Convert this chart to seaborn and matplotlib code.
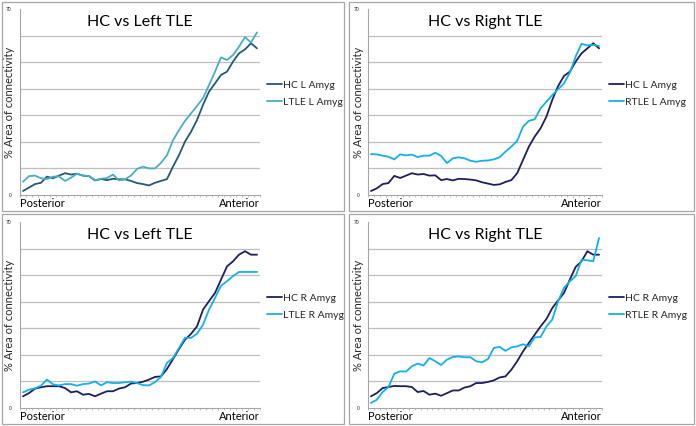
import matplotlib
matplotlib.use("Agg")
import matplotlib.pyplot as plt
import seaborn as sns
import pandas as pd
import numpy as np
from matplotlib.patches import Rectangle

# values, 40 slices posterior -> anterior
hc_l_amyg_a = [1.5, 2.8, 4.1, 4.6, 6.9, 6.3, 7.3, 8.2, 7.7, 8.0, 7.3, 7.1, 5.5, 6.0, 5.6, 6.1, 5.9, 5.9, 5.3, 4.5,
               4.1, 3.6, 4.6, 5.3, 6.0, 10.7, 15.0, 20.1, 23.8, 28.2, 33.9, 38.9, 42.0, 45.2, 46.4, 50.2, 53.3, 54.8, 57.1, 55.2]
ltle_l_amyg = [5.0, 7.1, 7.3, 6.3, 6.0, 6.9, 7.0, 5.3, 6.5, 8.0, 7.3, 7.1, 5.6, 6.1, 6.4, 7.7, 5.5, 5.9, 7.3, 9.8,
               10.7, 10.0, 10.0, 12.1, 15.0, 20.6, 24.4, 27.9, 30.7, 33.5, 36.4, 41.4, 46.4, 51.8, 50.8, 52.7, 55.8, 59.4, 57.4, 61.2]
hc_l_amyg_b = [1.5, 2.5, 4.1, 4.5, 7.2, 6.4, 7.3, 8.2, 7.7, 7.9, 7.3, 7.4, 5.6, 6.0, 5.5, 6.1, 6.0, 5.8, 5.5, 4.8,
               4.3, 3.8, 4.0, 4.9, 5.6, 8.2, 13.2, 18.2, 22.0, 25.1, 29.5, 35.8, 41.0, 44.8, 46.4, 50.2, 53.3, 55.2, 57.1, 55.2]
rtle_l_amyg = [15.4, 15.3, 14.8, 14.4, 13.4, 15.3, 14.9, 15.2, 14.3, 14.8, 14.8, 15.9, 14.7, 12.0, 13.8, 14.2, 13.8, 12.9, 12.5, 12.9,
               13.0, 13.4, 14.2, 16.3, 18.2, 20.4, 25.7, 27.9, 28.5, 32.6, 35.1, 37.6, 39.8, 42.0, 46.0, 52.1, 56.9, 56.3, 56.5, 56.1]
hc_r_amyg_a = [4.4, 5.6, 7.3, 7.8, 8.2, 8.2, 8.2, 7.5, 5.9, 6.3, 5.0, 5.3, 4.4, 5.4, 6.3, 6.3, 7.3, 7.8, 9.2, 9.4,
               9.9, 10.7, 11.7, 11.9, 14.7, 18.4, 22.2, 25.7, 27.9, 30.7, 37.0, 40.2, 43.3, 48.3, 53.3, 55.2, 57.7, 59.0, 57.7, 57.7]
ltle_r_amyg = [5.9, 6.9, 7.4, 8.4, 10.7, 8.9, 8.5, 9.0, 9.0, 8.4, 9.0, 9.2, 10.0, 8.5, 9.7, 9.4, 9.4, 9.7, 9.9, 9.4,
               8.6, 8.5, 9.7, 11.7, 17.0, 18.8, 22.6, 26.4, 26.4, 27.9, 31.3, 37.0, 41.4, 46.0, 47.7, 49.6, 51.2, 51.2, 51.2, 51.2]
hc_r_amyg_b = [4.4, 5.6, 7.5, 7.9, 8.3, 8.2, 8.2, 7.9, 6.0, 6.4, 5.0, 5.4, 4.6, 5.6, 6.6, 6.6, 7.7, 8.2, 9.4, 9.4,
               9.8, 10.4, 11.5, 11.9, 14.4, 17.6, 21.3, 24.5, 27.6, 30.7, 33.5, 37.6, 40.5, 43.3, 48.3, 53.1, 55.2, 59.0, 57.7, 57.7]
rtle_r_amyg = [1.9, 3.1, 6.0, 7.9, 12.9, 13.8, 13.7, 15.7, 16.7, 16.0, 18.8, 17.6, 16.2, 18.2, 19.2, 19.4, 19.1, 19.1, 17.6, 17.2,
               18.4, 22.6, 23.0, 21.5, 22.8, 23.2, 24.0, 23.2, 26.6, 26.7, 30.7, 33.3, 40.2, 45.2, 47.7, 49.6, 55.8, 55.6, 55.2, 64.0]

panels = [
    ("HC vs Left TLE", "HC L Amyg", hc_l_amyg_a, "LTLE L Amyg", ltle_l_amyg, "#215a76", "#4bacc6"),
    ("HC vs Right TLE", "HC L Amyg", hc_l_amyg_b, "RTLE L Amyg", rtle_l_amyg, "#1c1f5e", "#14b0ea"),
    ("HC vs Left TLE", "HC R Amyg", hc_r_amyg_a, "LTLE R Amyg", ltle_r_amyg, "#1c1f5e", "#14b0ea"),
    ("HC vs Right TLE", "HC R Amyg", hc_r_amyg_b, "RTLE R Amyg", rtle_r_amyg, "#1c1f5e", "#14b0ea"),
]

sns.set_theme(style="white")
plt.rcParams['font.family'] = ['Lato', 'DejaVu Sans']

W, H = 696, 426
fig = plt.figure(figsize=(W / 100, H / 100), dpi=100)

# pixel boxes: (plot left, plot right, plot top, plot bottom, border x0, border x1, border y0, border y1)
boxes = [
    (20, 260, 9, 195, 2, 344, 2, 211),
    (368, 602, 9, 195, 349, 694, 2, 211),
    (20, 260, 222, 408, 2, 344, 214, 424),
    (368, 602, 222, 408, 349, 694, 214, 424),
]

for (title, n1, v1, n2, v2, c1, c2), (l, r, t, b, bx0, bx1, by0, by1) in zip(panels, boxes):
    fig.patches.append(Rectangle((bx0 / W, 1 - by1 / H), (bx1 - bx0) / W, (by1 - by0) / H,
                                 transform=fig.transFigure, fill=False, edgecolor="#a6a6a6", lw=0.9))
    ax = fig.add_axes([l / W, 1 - b / H, (r - l) / W, (b - t) / H])
    n = len(v1)
    df = pd.DataFrame({"slice": list(range(n)) * 2,
                       "value": v1 + v2,
                       "series": [n1] * n + [n2] * n})
    sns.lineplot(data=df, x="slice", y="value", hue="series", palette=[c1, c2], ax=ax, linewidth=1.3)
    ax.set_xlim(-0.5, n - 0.5)
    ax.set_ylim(0, 70)
    ax.set_yticks([0, 70])
    ax.set_yticklabels(["0", "70"], fontsize=3.5)
    ax.set_yticks(np.arange(10, 61, 10), minor=True)
    ax.yaxis.grid(True, which="minor", color="#bfbfbf", lw=0.9)
    ax.yaxis.grid(False, which="major")
    ax.set_xticks(np.arange(-0.5, n, 1))
    ax.set_xticklabels([])
    ax.tick_params(axis="x", length=1.5, width=0.5, color="#a6a6a6", bottom=True, direction="out")
    ax.tick_params(axis="y", which="both", length=0, pad=6)
    for s in ["top", "right"]:
        ax.spines[s].set_visible(False)
    for s in ["left", "bottom"]:
        ax.spines[s].set_color("#a6a6a6")
        ax.spines[s].set_linewidth(0.8)
    ax.set_xlabel("")
    ax.set_ylabel("% Area of connectivity", fontsize=8)
    ax.yaxis.set_label_coords(-4.5 / (r - l), 0.5)
    ax.text(0.5, 0.93, title, transform=ax.transAxes, ha="center", va="center", fontsize=11.5, color="black")
    ax.text(0.0, -0.045, "Posterior", transform=ax.transAxes, ha="left", va="center", fontsize=8, color="black")
    ax.text(1.0, -0.045, "Anterior", transform=ax.transAxes, ha="right", va="center", fontsize=8, color="black")
    ax.legend(loc="center left", bbox_to_anchor=(1.0, 0.545), frameon=False, fontsize=7.5,
              handlelength=1.4, handletextpad=0.15, labelspacing=0.75, borderaxespad=0.3)

fig.savefig("out.png", dpi=100)
